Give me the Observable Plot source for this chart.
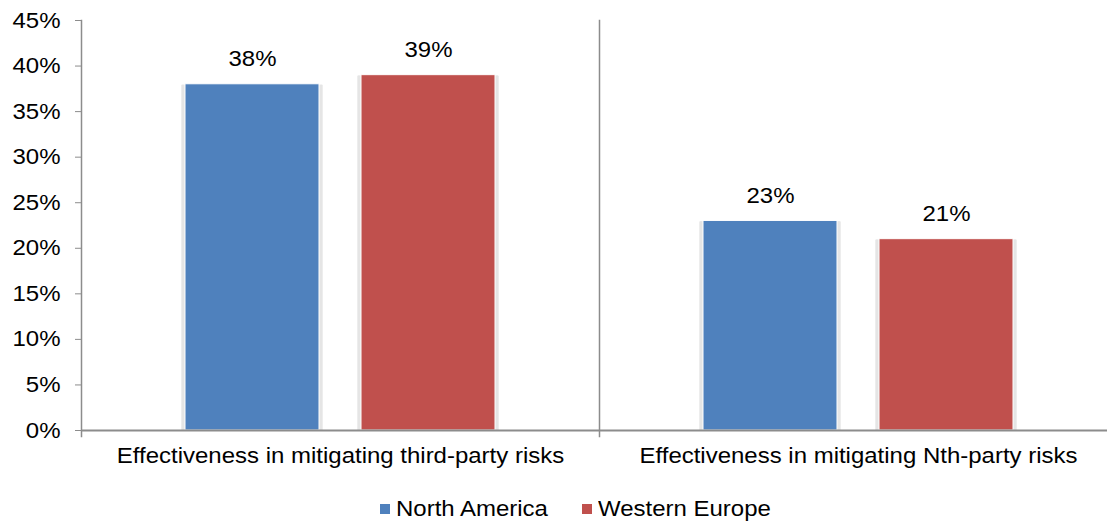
<!DOCTYPE html>
<html>
<head>
<meta charset="utf-8">
<script src="https://cdn.jsdelivr.net/npm/d3@7"></script>
<script src="https://cdn.jsdelivr.net/npm/@observablehq/plot@0.6"></script>
<style>
  html, body { margin: 0; padding: 0; background: #fff; overflow: hidden; }
  body { width: 1107px; height: 521px; position: relative; font-family: "Liberation Sans", Arial, sans-serif; }
  #chart svg { max-width: none !important; }
  #legend { position: absolute; left: 0; top: 0; width: 1107px; height: 521px; pointer-events: none; }
  #legend .sw { position: absolute; width: 10px; height: 10px; top: 504px; }
  #legend .lbl { position: absolute; top: 498px; font-size: 22px; line-height: 22px; color: #000; white-space: nowrap; transform: scaleX(1.09); transform-origin: left center; }
</style>
</head>
<body>
<div id="chart"></div>
<div id="legend"></div>
<script>
const categories = ["Effectiveness in mitigating third-party risks", "Effectiveness in mitigating Nth-party risks"];
const regions = ["North America", "Western Europe"];
const northAmerica = [38, 23];
const westernEurope = [39, 21];
const colors = ["#4F81BD", "#C0504D"];
const yTicks = [0, 5, 10, 15, 20, 25, 30, 35, 40, 45];

const data = [];
categories.forEach((c, i) => {
  data.push({category: c, region: regions[0], value: northAmerica[i]});
  data.push({category: c, region: regions[1], value: westernEurope[i]});
});

const axisColor = "#8c8c8c";
const fs = 22;

const chart = Plot.plot({
  width: 1117,
  height: 485,
  marginLeft: 80,
  marginRight: 0,
  marginTop: 20,
  marginBottom: 55,
  style: {fontFamily: "'Liberation Sans', Arial, sans-serif", fontSize: fs + "px", color: "#000", background: "transparent", overflow: "visible", maxWidth: "none"},
  fx: {domain: categories, padding: 0, axis: null},
  x: {domain: regions, paddingInner: 0.237, paddingOuter: 0.583, axis: null},
  y: {domain: [0, 45], axis: null},
  color: {domain: regions, range: colors},
  marks: [
    Plot.barY(data, {fx: "category", x: "region", y: "value", fill: "#d6d6d6", insetLeft: -3, insetRight: -3, dy: 1}),
    Plot.barY(data, {fx: "category", x: "region", y: "value", fill: "#e8e8e8", insetLeft: -4, insetRight: -4, dy: 1, fillOpacity: 0.8}),
    Plot.barY(data, {fx: "category", x: "region", y: "value", fill: "region", stroke: "#fff", strokeWidth: 1}),
    Plot.frame({anchor: "left", stroke: axisColor, strokeWidth: 1.5, insetBottom: -6}),
    Plot.ruleY([0], {stroke: axisColor, strokeWidth: 2}),
    Plot.axisY({ticks: yTicks, tickFormat: d => d + "%", tickSize: 6, tickPadding: 15, fontSize: fs, stroke: axisColor, fill: "#000", label: null}),
    Plot.text(data, {fx: "category", x: "region", y: "value", text: d => d.value + "%", dy: -25, fontSize: fs, fill: "#000"}),
    Plot.text(categories, {fx: d => d, text: d => d, frameAnchor: "bottom", dy: 32, fontSize: fs, fill: "#000"})
  ]
});
document.getElementById("chart").appendChild(chart);

// widen glyphs slightly to match the reference's wider Arial text
chart.querySelectorAll("text").forEach(el => {
  const w = el.getComputedTextLength();
  if (w > 0) {
    el.setAttribute("textLength", (w * 1.09).toFixed(1));
    el.setAttribute("lengthAdjust", "spacingAndGlyphs");
  }
});

const legend = document.getElementById("legend");
const legendPos = [{sw: 380, lbl: 396}, {sw: 582, lbl: 598}];
regions.forEach((r, i) => {
  const sw = document.createElement("span");
  sw.className = "sw";
  sw.style.background = colors[i];
  sw.style.left = legendPos[i].sw + "px";
  const label = document.createElement("span");
  label.className = "lbl";
  label.style.left = legendPos[i].lbl + "px";
  label.textContent = r;
  legend.appendChild(sw);
  legend.appendChild(label);
});
</script>
</body>
</html>
